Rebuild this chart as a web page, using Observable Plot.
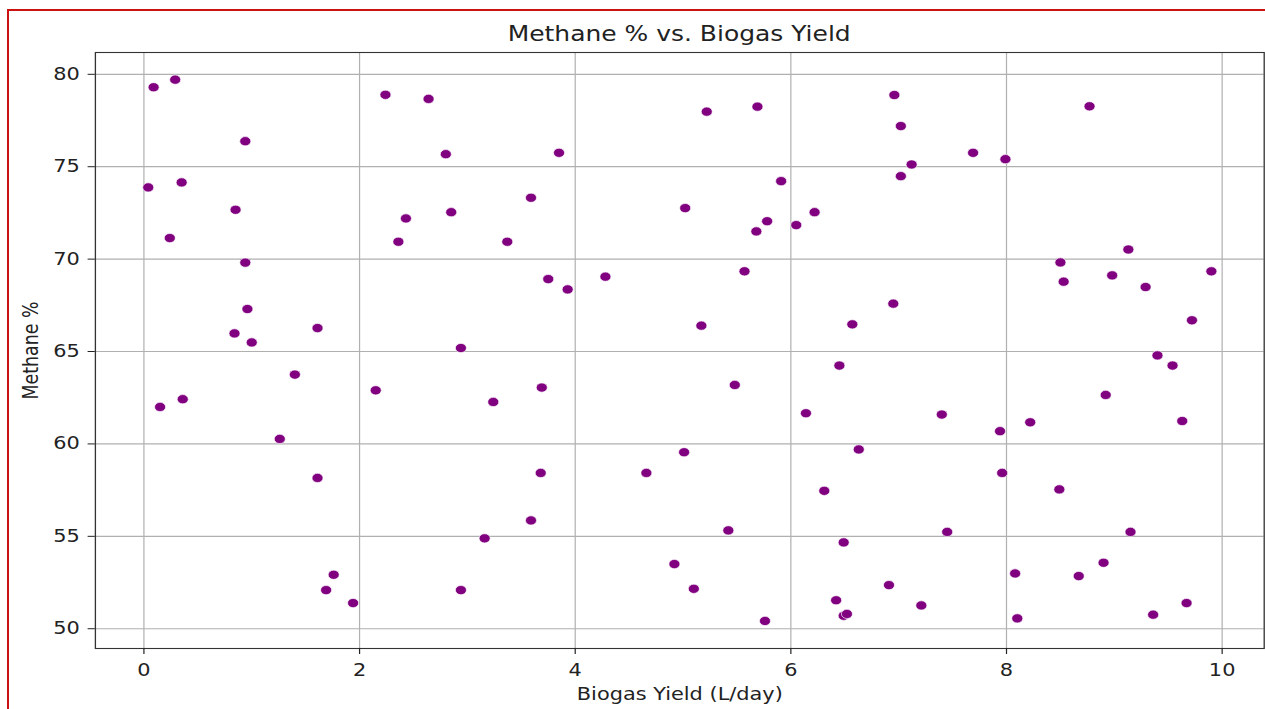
<!DOCTYPE html>
<html>
<head>
<meta charset="utf-8">
<script src="https://cdn.jsdelivr.net/npm/d3@7"></script>
<script src="https://cdn.jsdelivr.net/npm/@observablehq/plot@0.6"></script>
<style>
  html, body { margin: 0; padding: 0; background: #fff; overflow: hidden; width: 1265px; height: 709px; }
  #frame { position: absolute; left: 7px; top: 9px; width: 2000px; height: 2000px; border: 2px solid #cc1111; box-sizing: border-box; pointer-events: none; }
  #stretch { position: absolute; left: 0; top: 0; width: 1054px; height: 709px; transform: scaleX(1.2); transform-origin: 0 0; }
  #title { position: absolute; left: 79px; width: 974px; top: 22px; height: 25px; line-height: 25px; text-align: center;
           font-family: "DejaVu Sans", sans-serif; font-size: 20.8px; color: #222; white-space: nowrap; }
  #chart { position: absolute; left: 0; top: 47px; }
</style>
</head>
<body>
<div id="stretch">
  <div id="title">Methane % vs. Biogas Yield</div>
  <div id="chart"></div>
</div>
<div id="frame"></div>
<script>
const biogasYield = [
  0.09, 0.29, 0.94, 2.24, 2.64, 2.80, 0.04, 0.35, 0.85, 0.24, 2.43, 2.85, 2.36, 0.94, 0.96, 0.84, 1.61, 1.00, 2.94,
  5.22, 5.69, 3.85, 5.91, 3.59, 5.02, 6.22, 5.78, 6.05, 5.68, 3.37, 5.57, 4.28, 3.75, 3.93, 5.17, 6.57,
  6.96, 7.02, 7.12, 7.02, 7.69, 7.99, 8.77, 6.95, 9.13, 8.50, 8.53, 8.98, 9.29, 9.90, 9.72,
  1.40, 2.15, 0.36, 0.15, 1.26, 1.61, 1.76, 1.69, 1.94, 2.94,
  6.45, 5.48, 6.14, 6.63, 6.31, 6.49, 6.42, 6.49, 6.52, 5.76, 5.01, 4.66, 5.42, 4.92, 5.10, 3.69, 3.24, 3.68, 3.59, 3.16,
  9.40, 9.54, 8.92, 9.63, 7.40, 7.94, 8.22, 7.96, 8.49, 7.45, 9.15, 6.91, 7.21, 8.08, 8.67, 8.90, 8.10, 9.36, 9.67
];
const methanePct = [
  79.30, 79.71, 76.38, 78.89, 78.67, 75.68, 73.88, 74.15, 72.67, 71.14, 72.20, 72.54, 70.94, 69.81, 67.30, 65.98, 66.27, 65.49, 65.19,
  77.98, 78.25, 75.75, 74.22, 73.32, 72.76, 72.54, 72.05, 71.84, 71.50, 70.94, 69.34, 69.05, 68.92, 68.36, 66.40, 66.47,
  78.88, 77.20, 75.12, 74.49, 75.75, 75.41, 78.27, 67.59, 70.52, 69.82, 68.78, 69.12, 68.49, 69.34, 66.69,
  63.75, 62.90, 62.42, 62.00, 60.27, 58.16, 52.92, 52.09, 51.39, 52.09,
  64.24, 63.19, 61.66, 59.70, 57.46, 54.67, 51.54, 50.70, 50.80, 50.42, 59.55, 58.43, 55.32, 53.50, 52.16, 63.05, 62.27, 58.43, 55.86, 54.89,
  64.79, 64.24, 62.65, 61.24, 61.59, 60.69, 61.17, 58.43, 57.54, 55.24, 55.24, 52.36, 51.26, 52.99, 52.85, 53.57, 50.56, 50.76, 51.39
];
const xTicks = [0, 2, 4, 6, 8, 10];
const yTicks = [50, 55, 60, 65, 70, 75, 80];
const xLabel = "Biogas Yield (L/day)";
const yLabel = "Methane %";

const data = biogasYield.map((x, i) => ({x, y: methanePct[i]}));

const chart = Plot.plot({
  width: 1054,
  height: 662,
  marginTop: 5,
  marginBottom: 61,
  marginLeft: 79,
  marginRight: 1,
  style: {fontFamily: "DejaVu Sans, sans-serif", fontSize: "17.4px", color: "#222", background: "white", overflow: "visible"},
  x: {domain: [-0.45, 10.39]},
  y: {domain: [48.93, 81.18]},
  marks: [
    Plot.gridX(xTicks, {stroke: "#b0b0b0", strokeOpacity: 1, strokeWidth: 1}),
    Plot.gridY(yTicks, {stroke: "#b0b0b0", strokeOpacity: 1, strokeWidth: 1.2}),
    Plot.dot(data, {x: "x", y: "y", r: 4.6, fill: "#800080", stroke: "white", strokeWidth: 0.6}),
    Plot.frame({stroke: "#333", strokeWidth: 1.1}),
    Plot.axisX(xTicks, {tickSize: 6, tickPadding: 9, label: xLabel, labelAnchor: "center", labelOffset: 51, labelArrow: "none"}),
    Plot.axisY(yTicks, {tickSize: 6, tickPadding: 7, label: yLabel, labelAnchor: "center", labelOffset: 60, labelArrow: "none"})
  ]
});
document.getElementById("chart").appendChild(chart);
</script>
</body>
</html>
